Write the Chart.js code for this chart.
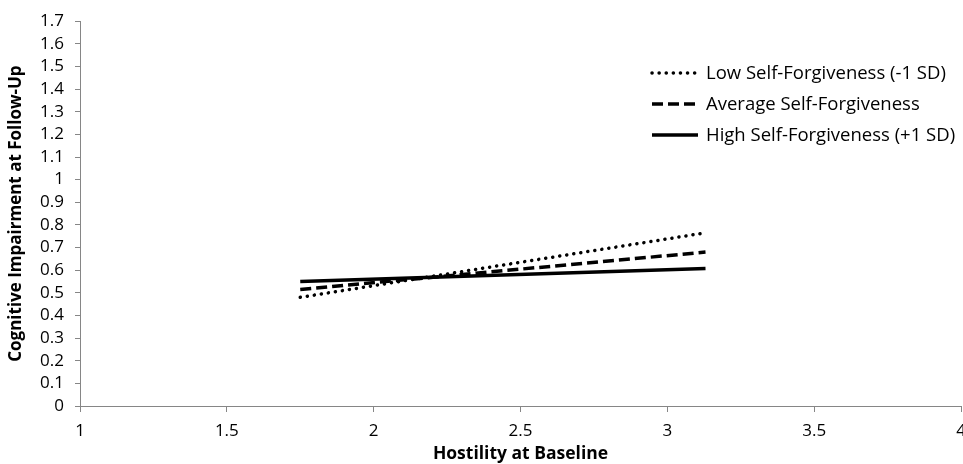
<!DOCTYPE html>
<html>
<head>
<meta charset="utf-8">
<script src="https://cdn.jsdelivr.net/npm/chart.js@4.4.1/dist/chart.umd.min.js"></script>
<style>
  html, body { margin: 0; padding: 0; background: #fff; }
  #wrap { width: 963px; height: 464px; }
</style>
</head>
<body>
<div id="wrap"><canvas id="chart" width="963" height="464"></canvas></div>
<script>
// hostility values (mean -1 SD / +1 SD)
const hostility = [1.75, 3.13];
const lowSF = [0.48, 0.765];
const avgSF = [0.515, 0.68];
const highSF = [0.55, 0.607];
const seriesNames = ["Low Self-Forgiveness (-1 SD)", "Average Self-Forgiveness", "High Self-Forgiveness (+1 SD)"];
const yTicks = [0, 0.1, 0.2, 0.3, 0.4, 0.5, 0.6, 0.7, 0.8, 0.9, 1, 1.1, 1.2, 1.3, 1.4, 1.5, 1.6, 1.7];
const xTicks = [1, 1.5, 2, 2.5, 3, 3.5, 4];

const axisGray = "#868686";
const font = "'Open Sans', Lato, sans-serif";

function toPoints(vals) {
  return hostility.map((h, i) => ({ x: h, y: vals[i] }));
}

// legend drawn inside the plot, top right
const insideLegend = {
  id: 'insideLegend',
  afterDraw(chart) {
    const ctx = chart.ctx;
    ctx.save();
    chart.data.datasets.forEach((ds, i) => {
      const y = 73 + i * 31;
      ctx.beginPath();
      ctx.strokeStyle = ds.borderColor;
      ctx.lineWidth = ds.borderWidth;
      ctx.lineCap = ds.borderCapStyle || 'butt';
      ctx.setLineDash(ds.borderDash || []);
      ctx.moveTo(652, y);
      ctx.lineTo(698, y);
      ctx.stroke();
      ctx.setLineDash([]);
      ctx.fillStyle = '#000';
      ctx.font = "18.5px " + font;
      ctx.textBaseline = 'middle';
      ctx.fillText(ds.label, 706, y + 1);
    });
    ctx.restore();
  }
};

new Chart(document.getElementById('chart'), {
  type: 'line',
  data: {
    datasets: [
      {
        label: seriesNames[0],
        data: toPoints(lowSF),
        borderColor: '#000',
        borderWidth: 3.5,
        borderDash: [0.1, 7],
        borderCapStyle: 'round',
        pointRadius: 0
      },
      {
        label: seriesNames[1],
        data: toPoints(avgSF),
        borderColor: '#000',
        borderWidth: 3.5,
        borderDash: [11, 5],
        pointRadius: 0
      },
      {
        label: seriesNames[2],
        data: toPoints(highSF),
        borderColor: '#000',
        borderWidth: 3.5,
        pointRadius: 0
      }
    ]
  },
  options: {
    responsive: false,
    animation: false,
    layout: { padding: { top: 21, right: 2, left: 4, bottom: 0 } },
    plugins: {
      legend: { display: false },
      tooltip: { enabled: false }
    },
    scales: {
      x: {
        type: 'linear',
        min: 1,
        max: 4,
        afterBuildTicks(scale) { scale.ticks = xTicks.map(v => ({ value: v })); },
        afterFit(scale) {
          scale.height = 58;
          // the last label runs off the edge like the original
          scale.paddingRight = 0;
          scale.paddingLeft = 0;
        },
        grid: { display: true, drawOnChartArea: false, drawTicks: true, tickLength: 6, tickColor: axisGray },
        border: { color: axisGray, width: 1 },
        ticks: {
          color: '#000',
          font: { family: font, size: 17 },
          padding: 9,
          maxRotation: 0,
          autoSkip: false,
          callback: v => String(v)
        },
        title: {
          display: true,
          text: 'Hostility at Baseline',
          color: '#000',
          font: { family: font, size: 17.5, weight: 'bold' },
          padding: { top: 0, bottom: -1 }
        }
      },
      y: {
        min: 0,
        max: 1.7,
        afterBuildTicks(scale) { scale.ticks = yTicks.map(v => ({ value: v })); },
        afterFit(scale) { scale.width = 76; },
        grid: { display: true, drawOnChartArea: false, drawTicks: true, tickLength: 5, tickColor: axisGray },
        border: { color: axisGray, width: 1 },
        ticks: {
          color: '#000',
          font: { family: font, size: 17 },
          padding: 11,
          autoSkip: false,
          callback: v => String(+v.toFixed(1))
        },
        title: {
          display: true,
          text: 'Cognitive Impairment at Follow-Up',
          color: '#000',
          font: { family: font, size: 17, weight: 'bold' },
          padding: { top: 2, bottom: 4 }
        }
      }
    }
  },
  plugins: [insideLegend, {
    id: 'whiteBg',
    beforeDraw(chart) {
      const c = chart.ctx;
      c.save();
      c.fillStyle = '#fff';
      c.fillRect(0, 0, chart.width, chart.height);
      c.restore();
    }
  }]
});
</script>
</body>
</html>
